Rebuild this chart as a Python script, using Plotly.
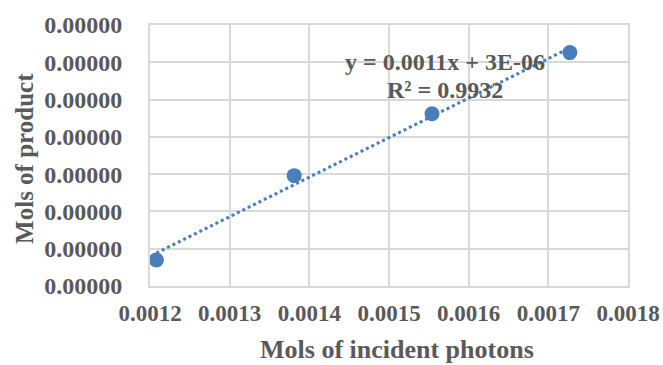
import numpy as np
import plotly.graph_objects as go

# Measurements
photons = [0.001208, 0.001381, 0.001554, 0.001727]     # mols of incident photons
product = [4.270e-6, 4.496e-6, 4.662e-6, 4.826e-6]     # mols of product
trend_label = ["y = 0.0011x + 3E-06", "R² = 0.9932"]

x_range = [0.0012, 0.0018]
y_range = [4.2e-6, 4.9e-6]

BLUE = "#4a7ebb"
GRAY = "#595959"
GRID = "#d9d9d9"
FONT = "Liberation Serif"

# Linear least-squares trendline over the data span
slope, intercept = np.polyfit(photons, product, 1)
tx = np.linspace(min(photons), max(photons), 50)
ty = slope * tx + intercept

fig = go.Figure()
fig.add_trace(go.Scatter(
    x=tx, y=ty, mode="lines",
    line=dict(color=BLUE, width=3, dash="dot"),
    hoverinfo="skip", showlegend=False,
))
fig.add_trace(go.Scatter(
    x=photons, y=product, mode="markers",
    marker=dict(color=BLUE, size=15),
    showlegend=False,
))

# Trendline equation and R² label
for text, yv in zip(trend_label, [4.8005e-6, 4.7255e-6]):
    fig.add_annotation(
        x=0.00157, y=yv, xref="x", yref="y",
        text="<b>" + text + "</b>", showarrow=False,
        font=dict(family=FONT, size=24, color=GRAY),
        xanchor="center", yanchor="middle",
    )

# Axis titles
fig.add_annotation(
    x=0.517, y=-0.245, xref="paper", yref="paper",
    text="<b>Mols of incident photons</b>", showarrow=False,
    font=dict(family=FONT, size=26, color=GRAY),
    xanchor="center", yanchor="middle",
)
fig.add_annotation(
    x=-0.2615, y=0.487, xref="paper", yref="paper",
    text="<b>Mols of product</b>", showarrow=False, textangle=-90,
    font=dict(family=FONT, size=25, color=GRAY),
    xanchor="center", yanchor="middle",
)

fig.update_layout(
    width=663, height=365,
    margin=dict(l=150, r=35, t=25, b=79),
    paper_bgcolor="white", plot_bgcolor="white",
    font=dict(family=FONT, color=GRAY),
    xaxis=dict(
        range=x_range, dtick=0.0001, tick0=0.0012, tickformat=".4f",
        showgrid=True, gridcolor=GRID, gridwidth=1.5,
        showline=True, linecolor=GRID, linewidth=2, mirror=True,
        zeroline=False, ticks="", ticklabelstandoff=5, automargin=False,
        tickfont=dict(family=FONT, size=23, color=GRAY, weight="bold"),
    ),
    yaxis=dict(
        range=y_range, dtick=1e-7, tick0=4.2e-6, tickformat=".5f",
        showgrid=True, gridcolor=GRID, gridwidth=1.5,
        showline=True, linecolor=GRID, linewidth=2, mirror=True,
        zeroline=False, ticks="", ticklabelstandoff=21, automargin=False,
        tickfont=dict(family=FONT, size=24, color=GRAY, weight="bold"),
    ),
)

fig.write_html("out.html")
